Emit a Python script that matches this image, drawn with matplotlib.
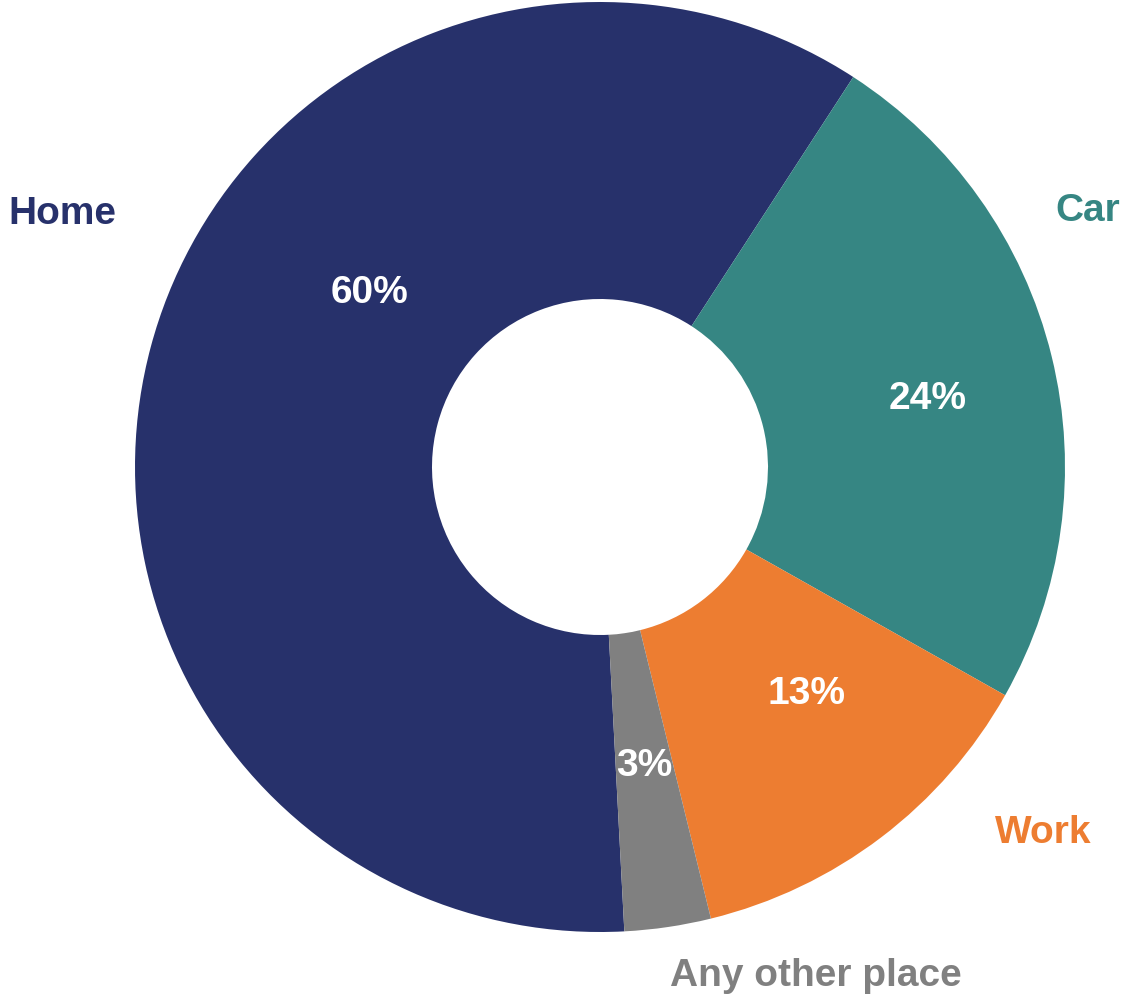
import numpy as np
import matplotlib
matplotlib.use("Agg")
import matplotlib.pyplot as plt

categories = ["Home", "Car", "Work", "Any other place"]
values = [60, 24, 13, 3]
colors = ["#27316B", "#368683", "#ED7D31", "#808080"]
pct_labels = ["60%", "24%", "13%", "3%"]

W, H, DPI = 1121, 998, 100
fig = plt.figure(figsize=(W / DPI, H / DPI), dpi=DPI)
ax = fig.add_axes([0, 0, 1, 1])

cx, cy, R = 600, 467, 465  # pixel layout of the donut
inner = 168 / R

wedges, _ = ax.pie(values, colors=colors, startangle=-87, counterclock=False,
                   radius=1.0, wedgeprops=dict(width=1 - inner, linewidth=0))

ax.set_xlim(-cx / R, (W - cx) / R)
ax.set_ylim(-(H - cy) / R, cy / R)
ax.set_aspect("auto")
ax.axis("off")

font = ["Liberation Sans", "DejaVu Sans"]
FS = 28

# percentage labels at ring mid-radius, mid-angle (small nudges per label)
radius_lab = [0.62, 0.72, 0.66, 0.65]
angle_nudge = [-22, -2, 5, 0]
for w, lab, r, dn in zip(wedges, pct_labels, radius_lab, angle_nudge):
    ang = np.deg2rad((w.theta1 + w.theta2) / 2 + dn)
    ax.text(r * np.cos(ang), r * np.sin(ang), lab, color="white",
            fontsize=FS, fontweight="bold", family=font,
            ha="center", va="center")

# category labels (pixel anchors)
cat_pos = [(8, 214, "left"), (1120, 211, "right"), (1092, 833, "right"),
           (816, 976, "center")]
for (px, py, ha), name, c in zip(cat_pos, categories, colors):
    ax.text((px - cx) / R, (cy - py) / R, name, color=c, fontsize=FS,
            fontweight="bold", family=font, ha=ha, va="center")

fig.savefig("out.png", dpi=DPI)
